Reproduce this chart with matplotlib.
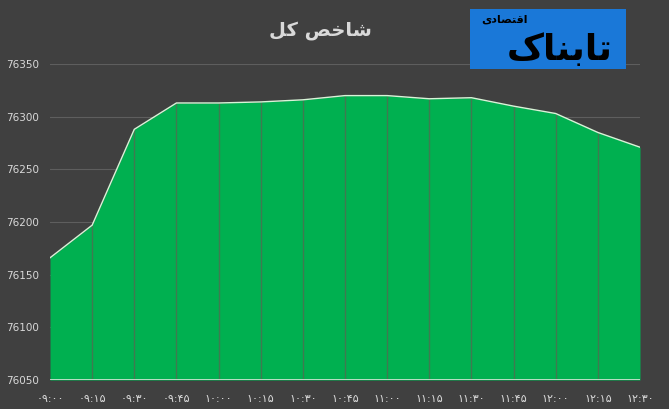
import matplotlib
matplotlib.use("Agg")
import matplotlib.pyplot as plt
from matplotlib.patches import Rectangle

# ---- data ----
times = ["۰۹:۰۰", "۰۹:۱۵", "۰۹:۳۰", "۰۹:۴۵", "۱۰:۰۰", "۱۰:۱۵", "۱۰:۳۰", "۱۰:۴۵",
         "۱۱:۰۰", "۱۱:۱۵", "۱۱:۳۰", "۱۱:۴۵", "۱۲:۰۰", "۱۲:۱۵", "۱۲:۳۰"]
values = [76166, 76197, 76288, 76313, 76313, 76314, 76316, 76320,
          76320, 76317, 76318, 76310, 76303, 76285, 76271]
yticks = [76050, 76100, 76150, 76200, 76250, 76300, 76350]
# title "شاخص کل" in shaped, visual-order presentation forms
title_text = "\uFEDE\uFB90 \uFEBA\uFEA7\uFE8E\uFEB7"
logo_main = "\uFB8E\uFE8E\uFEE8\uFE91\uFE8E\uFE97"          # تابناک
logo_sub = "\uFBFC\uFEA9\uFE8E\uFEBC\uFE98\uFED7\uFE8D"     # اقتصادی

BG = "#404040"
GREEN = "#00b050"
TXT = "#d9d9d9"

fig = plt.figure(figsize=(6.69, 4.09), dpi=100, facecolor=BG)
ax = fig.add_axes([50 / 669, 1 - 380 / 409, 590 / 669, 316 / 409])
ax.set_facecolor(BG)

x = list(range(len(values)))
base = yticks[0]
ax.set_xlim(0, len(values) - 1)
ax.set_ylim(yticks[0], yticks[-1])

for yt in yticks[1:]:
    ax.axhline(yt, color="#5e5e5e", lw=0.8, zorder=0)

ax.fill_between(x, base, values, color=GREEN, lw=0, zorder=2)
ax.plot(x, values, color="#d8f5d8", lw=1.0, zorder=4)
ax.vlines(x[1:-1], base, values[1:-1], color="#407a50", lw=1.0, zorder=3)
ax.axhline(base, color="#d9e8d9", lw=1.2, zorder=5)

ax.set_yticks(yticks)
ax.set_yticklabels([str(v) for v in yticks], color=TXT, fontsize=7.5,
                   family="DejaVu Sans")
ax.set_xticks(x)
ax.set_xticklabels(times, color=TXT, fontsize=8, family="DejaVu Sans")
ax.tick_params(axis="both", length=0)
ax.tick_params(axis="y", pad=8)
ax.tick_params(axis="x", pad=10)
for s in ax.spines.values():
    s.set_visible(False)

fig.text(320 / 669, 1 - 31 / 409, title_text, color=TXT, fontsize=14,
         fontweight="bold", ha="center", va="center", family="DejaVu Sans")

# logo
fig.patches.append(Rectangle((470 / 669, 1 - 69 / 409), 156 / 669, 60 / 409,
                             transform=fig.transFigure, facecolor="#1a78d8",
                             edgecolor="none", zorder=10))
fig.text(560 / 669, 1 - 50 / 409, logo_main, color="black", fontsize=26,
         fontweight="bold", ha="center", va="center", family="DejaVu Sans",
         zorder=11)
fig.text(505 / 669, 1 - 20 / 409, logo_sub, color="black", fontsize=8,
         fontweight="bold", ha="center", va="center", family="DejaVu Sans",
         zorder=11)

fig.savefig("out.png", dpi=100, facecolor=BG)
